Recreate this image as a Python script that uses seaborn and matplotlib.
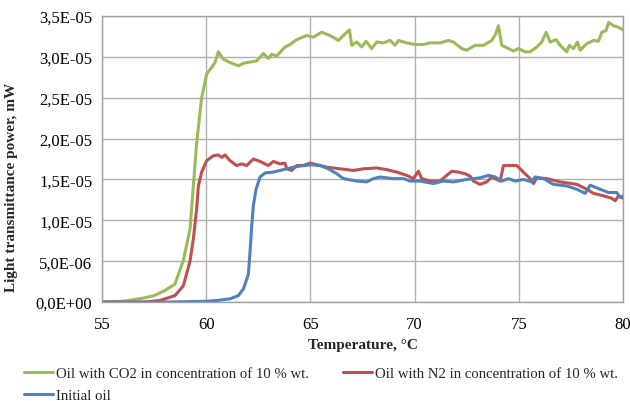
"""
Light transmittance power vs temperature for oil samples.
Run: python plot.py -> out.png
"""
import pandas as pd
import matplotlib
matplotlib.use("Agg")
import matplotlib.pyplot as plt
from matplotlib.ticker import FuncFormatter
import seaborn as sns

SCALE = 1e-5  # values below are read in units of 1e-5 mW

co2_temp = [55.0, 56.0, 57.0, 57.5, 58.0, 58.5, 58.9, 59.22, 59.38, 59.54, 59.78, 60.02,
            60.26, 60.42, 60.58, 60.82, 61.14, 61.54, 61.78, 62.42, 62.74, 62.98, 63.14,
            63.38, 63.78, 64.02, 64.34, 64.82, 65.14, 65.54, 65.94, 66.34, 66.66, 66.87,
            66.98, 67.22, 67.46, 67.67, 67.94, 68.18, 68.5, 68.82, 69.06, 69.22, 69.62,
            70.02, 70.42, 70.74, 71.22, 71.62, 71.86, 72.26, 72.5, 72.9, 73.3, 73.7, 73.89,
            74.02, 74.18, 74.5, 74.74, 74.98, 75.3, 75.54, 75.86, 76.1, 76.31, 76.5, 76.79,
            76.98, 77.3, 77.42, 77.62, 77.81, 77.94, 78.26, 78.58, 78.82, 78.98, 79.18,
            79.31, 79.54, 79.78, 80.0]
co2_power = [0.0, 0.01, 0.05, 0.08, 0.14, 0.22, 0.51, 0.89, 1.42, 1.95, 2.5, 2.79,
             2.87, 2.93, 3.06, 2.97, 2.93, 2.89, 2.92, 2.95, 3.04, 2.98, 3.03,
             3.01, 3.12, 3.15, 3.21, 3.26, 3.24, 3.30, 3.26, 3.20, 3.28, 3.33,
             3.14, 3.18, 3.12, 3.19, 3.10, 3.18, 3.17, 3.20, 3.14, 3.20, 3.17,
             3.15, 3.15, 3.17, 3.17, 3.20, 3.18, 3.10, 3.08, 3.14, 3.14, 3.20, 3.28,
             3.38, 3.14, 3.10, 3.07, 3.10, 3.06, 3.06, 3.12, 3.18, 3.30, 3.18, 3.21,
             3.14, 3.06, 3.14, 3.10, 3.18, 3.08, 3.16, 3.20, 3.19, 3.30, 3.32,
             3.42, 3.38, 3.36, 3.33]

n2_temp = [55.0, 57.0, 57.78, 58.5, 58.9, 59.22, 59.38, 59.54, 59.62, 59.78, 60.02, 60.34,
           60.58, 60.74, 60.9, 61.14, 61.46, 61.7, 61.94, 62.26, 62.58, 62.98, 63.22, 63.54,
           63.78, 63.86, 64.1, 64.34, 64.66, 64.98, 65.46, 65.78, 66.42, 67.06, 67.54,
           68.18, 68.66, 69.14, 69.62, 69.94, 70.18, 70.34, 70.74, 71.22, 71.54, 71.78,
           72.1, 72.42, 72.66, 72.82, 73.14, 73.46, 73.7, 74.1, 74.26, 74.9, 75.22, 75.54,
           75.7, 75.86, 76.34, 76.98, 77.78, 78.26, 78.58, 79.06, 79.46, 79.62, 79.78, 80.0]
n2_power = [0.0, 0.0, 0.02, 0.08, 0.2, 0.5, 0.77, 1.14, 1.42, 1.59, 1.73, 1.79,
            1.80, 1.77, 1.80, 1.73, 1.67, 1.69, 1.67, 1.75, 1.72, 1.67, 1.72, 1.69,
            1.70, 1.63, 1.61, 1.67, 1.67, 1.70, 1.67, 1.65, 1.63, 1.61, 1.63,
            1.64, 1.62, 1.59, 1.55, 1.51, 1.60, 1.51, 1.48, 1.48, 1.55, 1.60,
            1.59, 1.57, 1.54, 1.48, 1.44, 1.47, 1.53, 1.48, 1.67, 1.67, 1.59, 1.51,
            1.45, 1.52, 1.51, 1.47, 1.44, 1.38, 1.33, 1.30, 1.27, 1.24, 1.30, 1.27]

init_temp = [55.0, 58.0, 60.0, 60.5, 61.14, 61.54, 61.78, 62.02, 62.1, 62.18, 62.26, 62.39,
             62.58, 62.82, 63.22, 63.7, 64.18, 64.66, 65.06, 65.46, 65.86, 66.26, 66.58,
             67.22, 67.7, 68.02, 68.34, 68.98, 69.46, 69.78, 70.26, 70.9, 71.38, 71.86,
             72.5, 73.14, 73.54, 73.86, 74.18, 74.5, 74.82, 75.22, 75.62, 75.78, 76.18,
             76.66, 77.3, 77.78, 78.18, 78.42, 78.9, 79.3, 79.7, 79.86, 80.0]
init_power = [0.0, 0.0, 0.01, 0.02, 0.04, 0.08, 0.16, 0.34, 0.61, 0.93, 1.18, 1.38,
              1.53, 1.58, 1.59, 1.62, 1.65, 1.67, 1.68, 1.67, 1.63, 1.57, 1.51,
              1.48, 1.47, 1.51, 1.53, 1.51, 1.51, 1.48, 1.48, 1.45, 1.48, 1.47,
              1.50, 1.52, 1.55, 1.53, 1.48, 1.51, 1.48, 1.50, 1.47, 1.53, 1.51,
              1.44, 1.42, 1.38, 1.33, 1.43, 1.38, 1.34, 1.34, 1.28, 1.30]

labels = ["Oil with CO2 in concentration of 10 % wt.",
          "Oil with N2 in concentration of 10 % wt.",
          "Initial oil"]
colors = ["#9BBB59", "#C0504D", "#4F81BD"]

x_ticks = [55, 60, 65, 70, 75, 80]
y_ticks = [0, 0.5e-5, 1.0e-5, 1.5e-5, 2.0e-5, 2.5e-5, 3.0e-5, 3.5e-5]

sns.set_theme(style="whitegrid")
plt.rcParams["font.family"] = ["Liberation Serif", "DejaVu Serif"]

series = [(co2_temp, co2_power), (n2_temp, n2_power), (init_temp, init_power)]

fig = plt.figure(figsize=(6.3, 4.02), dpi=100)
ax = fig.add_axes([0.162, 0.246, 0.827, 0.712])

for (t, p), lab, col in zip(series, labels, colors):
    df = pd.DataFrame({"temp": t, "power": [v * SCALE for v in p]})
    sns.lineplot(data=df, x="temp", y="power", ax=ax, color=col, linewidth=2.2,
                 estimator=None, sort=False, label=lab)

ax.set_xlim(55, 80)
ax.set_ylim(0, 3.5e-5)
ax.set_xticks(x_ticks)
ax.set_yticks(y_ticks)
ax.yaxis.set_major_formatter(FuncFormatter(lambda v, pos: f"{v:.1E}".replace(".", ",")))
ax.tick_params(axis="both", length=0, labelsize=12, colors="black")
ax.tick_params(axis="x", pad=10)
ax.tick_params(axis="y", pad=7)
ax.grid(True, color="#B0B0B0", linewidth=1.0)
for s in ax.spines.values():
    s.set_color("#A0A0A0")
    s.set_linewidth(1.0)

ax.set_xlabel("Temperature, °C", fontsize=11, fontweight="bold", labelpad=4)
ax.set_ylabel("Light transmittance power, mW", fontsize=11, fontweight="bold")
ax.yaxis.set_label_coords(-0.161, 0.405)

handles, hl = ax.get_legend_handles_labels()
ax.get_legend().remove()
order = [0, 2, 1]
fig.legend([handles[i] for i in order], [hl[i] for i in order],
           loc="upper left", bbox_to_anchor=(0.028, 0.1), ncol=2, frameon=False,
           fontsize=10.6, handlelength=2.0, handletextpad=0.2, columnspacing=2.3,
           labelspacing=0.62, borderaxespad=0)

fig.savefig("out.png", dpi=100)
plt.close(fig)
